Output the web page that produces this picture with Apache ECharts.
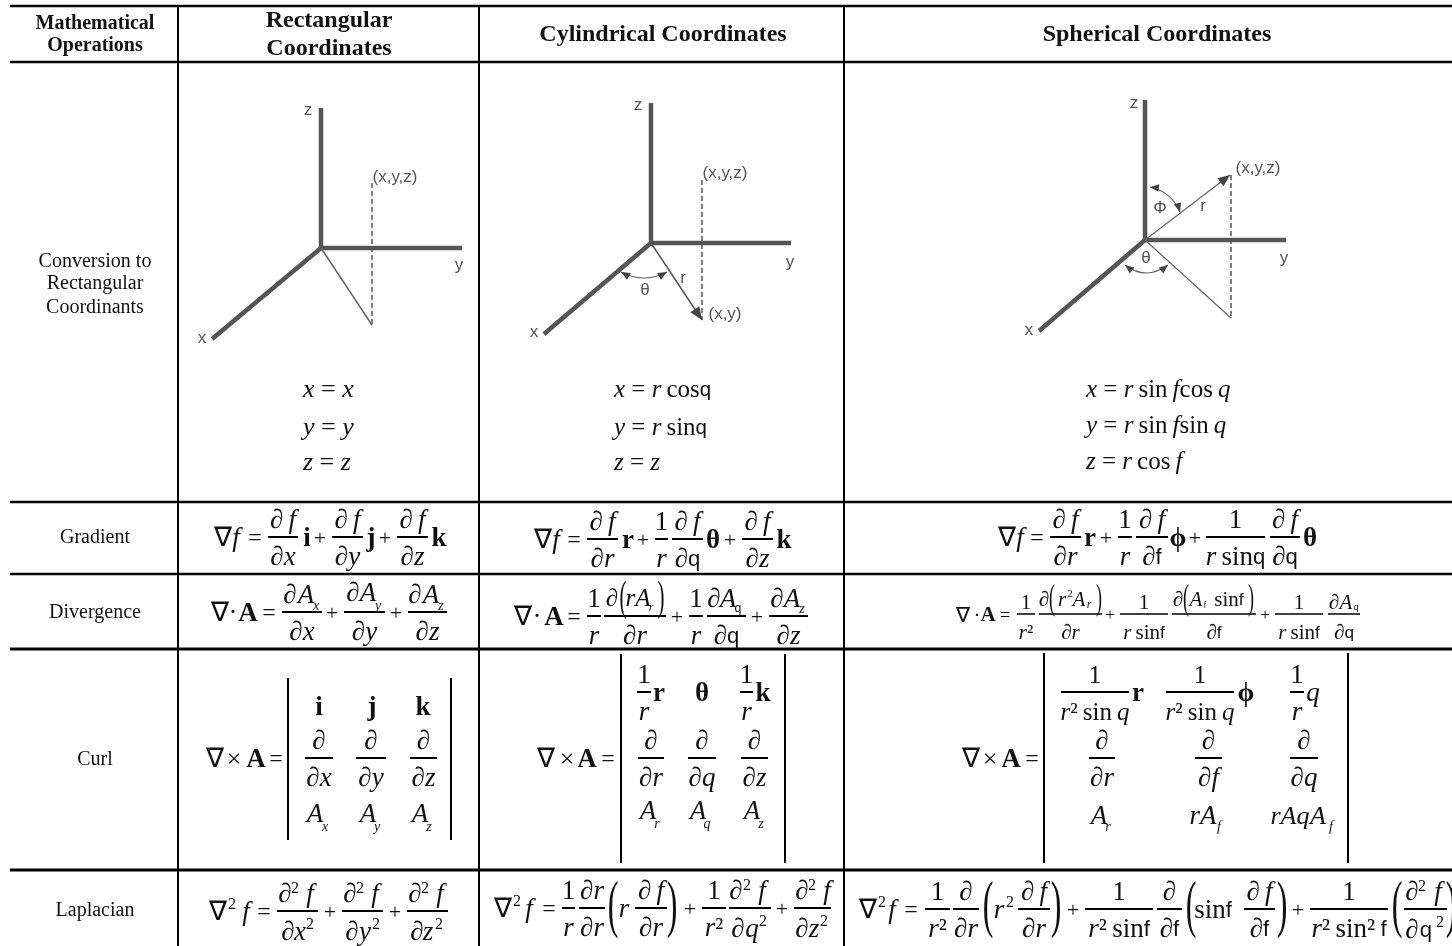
<!DOCTYPE html>
<html>
<head>
<meta charset="utf-8">
<style>html,body{margin:0;padding:0;background:#fff}#chart{width:1452px;height:946px}</style>
<script src="https://cdn.jsdelivr.net/npm/echarts@6/dist/echarts.min.js"></script>
</head>
<body>
<div id="chart"></div>
<script>
// table text
var columnHeaders = ['Cylindrical Coordinates', 'Spherical Coordinates'];
var wrappedHeader1 = ['Mathematical', 'Operations'];
var wrappedHeader2 = ['Rectangular', 'Coordinates'];
var rowLabels = ['Gradient', 'Divergence', 'Curl', 'Laplacian'];
var conversionLabel = ['Conversion to', 'Rectangular', 'Coordinants'];

// table rules
var rowRules = [6, 62, 502, 574, 649, 870];
var colRules = [178, 479, 844];

// the three axis sketches: [x1, y1, x2, y2]
var rectAxes = [[321, 108, 321, 248], [321, 248, 462, 248], [321, 248, 212, 339]];
var rectThin = [[321, 248, 372, 325]];
var rectDash = [[372, 183, 372, 325]];
var cylAxes = [[651, 103, 651, 243], [651, 243, 791, 243], [651, 243, 544, 334]];
var cylThin = [[651, 243, 702, 320]];
var cylDash = [[702, 180, 702, 320]];
var sphAxes = [[1145, 100, 1145, 240], [1145, 240, 1286, 240], [1145, 240, 1039, 331]];
var sphThin = [[1145, 240, 1231, 318], [1145, 240, 1230, 175]];
var sphDash = [[1231, 175, 1231, 318]];

var rules = [], sketch = [], texts = [];
var SERIF = '"Liberation Serif"', SANS = '"Liberation Sans"', M = 27, GREY = '#555';
var THIN = '\u2009';

function I(s) { return '{i|' + s + '}'; }
function B(s) { return '{b|' + s + '}'; }
function S(s) { return '{s|' + s + '}'; }

function t(str, x, y, size, opt) {
  opt = opt || {};
  texts.push({ str: str, x: x, y: y, size: size || M, color: opt.color || '#111', weight: opt.weight || 'normal',
    family: opt.family || SERIF, align: opt.align || 'center', scaleX: opt.scaleX || 1 });
}
function rule(x1, y1, x2, y2, w) { rules.push({ p: [x1, y1, x2, y2], w: w || 2 }); }
function frac(x1, x2, y, num, den, size, ny, dy) {
  size = size || M;
  rule(x1, y, x2, y, size > 24 ? 2 : 1.5);
  var c = (x1 + x2) / 2;
  if (num) t(num, c, y - (ny || 18), size);
  if (den) t(den, c, y + (dy || 19), size);
}
function sup(x, y, s) { t(s || '2', x, y, 16); }
function sub(x, y, s, size) { t(I(s), x, y, size || 14); }
function paren(s, x, y, size) { t(s, x, y, size, { scaleX: 0.5 }); }

// ---- table ----
rowRules.forEach(function (y, i) { rule(10, y, 1452, y, i > 3 ? 3 : 2.5); });
colRules.forEach(function (x) { rule(x, 6, x, 946, 2); });

t(wrappedHeader1[0], 95, 22, 20, { weight: 'bold' });
t(wrappedHeader1[1], 95, 44, 20, { weight: 'bold' });
t(wrappedHeader2[0], 329, 19, 24, { weight: 'bold' });
t(wrappedHeader2[1], 329, 47, 24, { weight: 'bold' });
t(columnHeaders[0], 663, 33, 24, { weight: 'bold' });
t(columnHeaders[1], 1157, 33, 24, { weight: 'bold' });
t(conversionLabel[0], 95, 260, 20);
t(conversionLabel[1], 95, 282, 20);
t(conversionLabel[2], 95, 306, 20);
t(rowLabels[0], 95, 536, 20);
t(rowLabels[1], 95, 611, 20);
t(rowLabels[2], 95, 758, 20);
t(rowLabels[3], 95, 909, 20);

// ---- sketches ----
function sketchLines(list, w, color, dash) {
  list.forEach(function (p) { sketch.push({ kind: 'line', p: p, w: w, color: color, dash: dash }); });
}
function label(s, x, y, size) { t(s, x, y - 2, size || 17, { family: SANS, color: GREY }); }
function head(x, y, fx, fy, size) { sketch.push({ kind: 'head', p: [x, y, fx, fy], size: size || 11 }); }
function curve(x1, y1, cx, cy, x2, y2) { sketch.push({ kind: 'arc', p: [x1, y1, cx, cy, x2, y2] }); }

sketchLines(rectAxes, 4.5, GREY);
sketchLines(rectThin, 1.5, '#666');
sketchLines(rectDash, 1.5, '#555', [5, 3]);
label('z', 308, 110); label('(x,y,z)', 395, 177); label('y', 459, 265); label('x', 202, 338);

sketchLines(cylAxes, 4.5, GREY);
sketchLines(cylThin, 1.5, '#555');
sketchLines(cylDash, 1.5, '#555', [5, 3]);
head(702, 320, 651, 243, 13);
curve(621, 272, 644, 284, 667, 272);
head(621, 272, 632, 278, 9); head(667, 272, 656, 278, 9);
label('z', 638, 105); label('(x,y,z)', 725, 173); label('y', 790, 262); label('x', 534, 332);
label('(x,y)', 725, 314); label('θ', 645, 290); label('r', 683, 278);

sketchLines(sphAxes, 4.5, GREY);
sketchLines(sphThin, 1.2, '#666');
sketchLines(sphDash, 1.5, '#555', [5, 3]);
head(1230, 175, 1145, 240, 12);
curve(1150, 187, 1172, 192, 1180, 212);
head(1150, 187, 1160, 188, 9); head(1180, 212, 1177, 202, 9);
curve(1125, 265, 1146, 281, 1168, 265);
head(1125, 265, 1134, 272, 9); head(1168, 265, 1159, 272, 9);
label('z', 1134, 103); label('(x,y,z)', 1258, 168); label('Φ', 1160, 208); label('r', 1203, 206);
label('θ', 1146, 258); label('y', 1284, 258); label('x', 1029, 330);

// ---- conversion formulas ----
var L = { align: 'left' };
t(I('x') + ' = ' + I('x'), 303, 388, 26, L);
t(I('y') + ' = ' + I('y'), 303, 426, 26, L);
t(I('z') + ' = ' + I('z'), 303, 461, 26, L);
t(I('x') + ' = ' + I('r') + THIN + 'cos' + S('q'), 614, 388, 25, L);
t(I('y') + ' = ' + I('r') + THIN + 'sin' + S('q'), 614, 426, 25, L);
t(I('z') + ' = ' + I('z'), 614, 461, 25, L);
t(I('x') + ' = ' + I('r') + THIN + 'sin' + THIN + I('f') + 'cos' + THIN + I('q'), 1086, 388, 25, L);
t(I('y') + ' = ' + I('r') + THIN + 'sin' + THIN + I('f') + 'sin' + THIN + I('q'), 1086, 424, 25, L);
t(I('z') + ' = ' + I('r') + THIN + 'cos' + THIN + I('f'), 1086, 460, 25, L);

// ---- gradient ----
var df = '∂' + THIN + I('f');
t('∇' + I('f'), 227, 537); t('=', 255, 537, 24);
frac(268, 298, 537, df, '∂' + I('x')); t(B('i'), 307, 537); t('+', 320, 537, 22);
frac(332, 363, 537, df, '∂' + I('y')); t(B('j'), 371, 537); t('+', 385, 537, 22);
frac(397, 428, 537, df, '∂' + I('z')); t(B('k'), 439, 537);

t('∇' + I('f'), 547, 539); t('=', 574, 539, 24);
frac(587, 618, 539, df, '∂' + I('r')); t(B('r'), 628, 539); t('+', 643, 539, 22);
frac(655, 668, 539, '1', I('r')); frac(672, 703, 539, df, '∂' + S('q'));
t(B('θ'), 713, 539); t('+', 730, 539, 22);
frac(742, 773, 539, df, '∂' + I('z')); t(B('k'), 784, 539);

t('∇' + I('f'), 1011, 537); t('=', 1037, 537, 24);
frac(1050, 1081, 537, df, '∂' + I('r')); t(B('r'), 1090, 537); t('+', 1106, 537, 22);
frac(1118, 1132, 537, '1', I('r')); frac(1136, 1168, 537, df, '∂' + S('f'));
t(B('ϕ'), 1178, 537); t('+', 1195, 537, 22);
frac(1206, 1265, 537, '1', I('r') + THIN + 'sin' + S('q')); frac(1270, 1300, 537, df, '∂' + S('q'));
t(B('θ'), 1310, 537);

// ---- divergence ----
function gradA(y, dx, ax, sx, s, ny) {
  t('∂', dx, y - (ny || 18)); t(I('A'), ax, y - (ny || 18)); sub(sx, y - 8, s);
}
t('∇', 220, 612); t('·', 233, 612); t(B('A'), 248, 612); t('=', 269, 612, 24);
frac(282, 322, 612, '', '∂' + I('x')); gradA(612, 290, 306, 316, 'x'); t('+', 332, 612, 22);
frac(344, 385, 612, '', '∂' + I('y')); gradA(612, 353, 368, 378, 'y', 20); t('+', 396, 612, 22);
frac(408, 447, 612, '', '∂' + I('z')); gradA(612, 415, 431, 441, 'z');

t('∇', 523, 616); t('·', 537, 616); t(B('A'), 554, 616); t('=', 574, 616, 24);
frac(587, 601, 616, '1', I('r'));
frac(604, 666, 616, '', '∂' + I('r'));
t('∂', 612, 597, 25); paren('(', 623, 597, 42); t(I('rA'), 638, 597, 25); sub(651, 606, 'r', 12); paren(')', 661, 597, 42);
t('+', 677, 616, 22);
frac(689, 703, 616, '1', I('r'));
frac(707, 746, 616, '', '∂' + S('q'));
t('∂', 714, 598); t(I('A'), 728, 598); t(S('q'), 738, 607, 15);
t('+', 757, 616, 22);
frac(769, 808, 616, '', '∂' + I('z'));
t('∂', 777, 598); t(I('A'), 792, 598); sub(802, 607, 'z');

var D = 21;
t('∇', 963, 614, D); t('·', 977, 614, D); t(B('A'), 988, 614, D); t('=', 1005, 614, 18);
frac(1017, 1035, 614, '1', I('r') + '²', D, 13, 17);
frac(1039, 1102, 614, '', '∂' + I('r'), D, 0, 17);
t('∂', 1044, 598, D); paren('(', 1052, 598, 36); t(I('r'), 1062, 598, D); t('2', 1070, 592, 11); t(I('A'), 1079, 598, D); sub(1089, 603, 'r', 12); paren(')', 1099, 598, 36);
t('+', 1110, 614, 17);
frac(1120, 1168, 614, '1', I('r') + THIN + 'sin' + S('f'), D, 13, 17);
frac(1172, 1256, 614, '', '∂' + S('f'), D, 0, 17);
t('∂', 1178, 598, D); paren('(', 1186, 598, 36); t(I('A'), 1196, 598, D); t(S('f'), 1205, 604, 10); t('sin' + S('f'), 1229, 598, D); paren(')', 1251, 598, 36);
t('+', 1265, 614, 17);
frac(1275, 1323, 614, '1', I('r') + THIN + 'sin' + S('f'), D, 13, 17);
frac(1328, 1360, 614, '', '∂' + S('q'), D, 0, 17);
t('∂', 1334, 601, D); t(I('A'), 1346, 601, D); t(S('q'), 1356, 606, 11);

// ---- curl ----
function bars(x1, x2, y1, y2) { rule(x1, y1, x1, y2, 2); rule(x2, y1, x2, y2, 2); }
t('∇', 215, 758); t('×', 234, 758, 26); t(B('A'), 256, 758); t('=', 276, 758, 24);
bars(288, 451, 678, 840);
t(B('i'), 319, 706); t(B('j'), 372, 706); t(B('k'), 423, 706);
frac(305, 333, 758, '∂', '∂' + I('x'));
frac(356, 386, 758, '∂', '∂' + I('y'));
frac(410, 437, 758, '∂', '∂' + I('z'));
t(I('A'), 315, 813); sub(325, 825, 'x');
t(I('A'), 368, 813); sub(377, 825, 'y');
t(I('A'), 420, 813); sub(429, 825, 'z');

t('∇', 546, 758); t('×', 567, 758, 26); t(B('A'), 587, 758); t('=', 608, 758, 24);
bars(621, 785, 654, 863);
frac(637, 651, 692, '1', I('r')); t(B('r'), 659, 692);
t(B('θ'), 702, 692);
frac(740, 753, 692, '1', I('r')); t(B('k'), 763, 692);
frac(638, 664, 758, '∂', '∂' + I('r'));
frac(688, 716, 758, '∂', '∂' + I('q'));
frac(741, 768, 758, '∂', '∂' + I('z'));
t(I('A'), 648, 810); sub(657, 822, 'r');
t(I('A'), 698, 810); sub(707, 822, 'q');
t(I('A'), 752, 810); sub(761, 822, 'z');

t('∇', 971, 758); t('×', 990, 758, 26); t(B('A'), 1011, 758); t('=', 1032, 758, 24);
bars(1044, 1348, 653, 863);
var r2sin = I('r') + '²' + THIN + 'sin' + THIN + I('q');
frac(1061, 1129, 692, '1', r2sin, 25); t(B('r'), 1138, 692);
frac(1166, 1234, 692, '1', r2sin, 25); t(B('ϕ'), 1246, 692);
frac(1290, 1304, 692, '1', I('r')); t(I('q'), 1313, 692);
frac(1089, 1115, 758, '∂', '∂' + I('r'));
frac(1195, 1222, 758, '∂', '∂' + I('f'));
frac(1290, 1318, 758, '∂', '∂' + I('q'));
t(I('A'), 1099, 815); sub(1108, 825, 'r');
t(I('rA'), 1203, 815); sub(1219, 825, 'f');
t(I('rAq'), 1290, 815, 26); t(I('A'), 1318, 815, 26); sub(1331, 825, 'f');

// ---- laplacian ----
function lapNum(y, dx, sx, fx) { t('∂', dx, y - 18); sup(sx, y - 24); t(I('f'), fx, y - 18); }
function lapDen(y, dx, vx, sx, v) { t('∂', dx, y + 20); t(v, vx, y + 20); sup(sx, y + 12); }
function frame(x1, x2, y) { frac(x1, x2, y, '', ''); }
function del2(x, y, fx, sx) { t('∇', x, y); sup(sx, y - 8); t(I('f'), fx, y); }

del2(218, 911, 246, 232); t('=', 264, 911, 24);
frame(277, 318, 911); lapNum(911, 285, 295, 310); lapDen(911, 288, 300, 310, I('x')); t('+', 330, 911, 22);
frame(342, 383, 911); lapNum(911, 350, 360, 375); lapDen(911, 352, 365, 376, I('y')); t('+', 395, 911, 22);
frame(407, 448, 911); lapNum(911, 415, 425, 440); lapDen(911, 417, 428, 439, I('z'));

del2(503, 908, 529, 517); t('=', 549, 908, 24);
frac(562, 575, 908, '1', I('r'));
frac(579, 605, 908, '∂' + I('r'), '∂' + I('r'));
paren('(', 613, 906, 64); t(I('r'), 624, 908); frac(635, 667, 908, df, '∂' + I('r')); paren(')', 672, 906, 64);
t('+', 690, 908, 22);
frac(702, 726, 908, '1', I('r') + '²');
frame(729, 771, 908); lapNum(908, 736, 747, 762); lapDen(908, 738, 752, 763, I('q'));
t('+', 782, 908, 22);
frame(794, 831, 908); lapNum(908, 802, 812, 827); lapDen(908, 802, 814, 824, I('z'));

del2(868, 909, 892, 882); t('=', 911, 909, 24);
frac(925, 950, 909, '1', I('r') + '²');
frac(953, 979, 909, '∂', '∂' + I('r'));
paren('(', 988, 906, 64); t(I('r'), 999, 909); sup(1010, 901); frac(1018, 1050, 909, df, '∂' + I('r')); paren(')', 1056, 906, 64);
t('+', 1073, 909, 22);
frac(1085, 1153, 909, '1', I('r') + '²' + THIN + 'sin' + S('f'));
frac(1157, 1182, 909, '∂', '∂' + S('f'));
paren('(', 1191, 906, 64); t('sin' + S('f'), 1213, 909); frac(1244, 1275, 909, df, '∂' + S('f')); paren(')', 1282, 906, 64);
t('+', 1298, 909, 22);
frac(1310, 1388, 909, '1', I('r') + '²' + THIN + 'sin²' + THIN + S('f'));
paren('(', 1397, 906, 64);
frame(1404, 1447, 909); lapNum(909, 1412, 1422, 1438); lapDen(909, 1412, 1426, 1440, S('q'));
paren(')', 1451, 906, 64);

// ---- drawing ----
function renderRule(params, api) {
  var m = rules[api.value(2)];
  var a = api.coord([m.p[0], m.p[1]]), b = api.coord([m.p[2], m.p[3]]);
  return { type: 'line', shape: { x1: a[0], y1: a[1], x2: b[0], y2: b[1] }, style: { stroke: '#000', lineWidth: m.w } };
}
function renderSketch(params, api) {
  var m = sketch[api.value(2)], p = m.p;
  var a = api.coord([p[0], p[1]]), b = api.coord([p[2], p[3]]);
  if (m.kind === 'line') {
    return { type: 'line', shape: { x1: a[0], y1: a[1], x2: b[0], y2: b[1] },
      style: { stroke: m.color, lineWidth: m.w, lineDash: m.dash || null } };
  }
  if (m.kind === 'arc') {
    var c = api.coord([p[4], p[5]]);
    return { type: 'bezierCurve', shape: { x1: a[0], y1: a[1], cpx1: b[0], cpy1: b[1], x2: c[0], y2: c[1] },
      style: { stroke: '#666', lineWidth: 1.2, fill: null } };
  }
  // arrow head pointing from the tail point to the tip
  var ang = Math.atan2(a[1] - b[1], a[0] - b[0]), s = m.size, w = s * 0.42;
  var bx = a[0] - Math.cos(ang) * s, by = a[1] - Math.sin(ang) * s;
  return { type: 'polygon', shape: { points: [a,
    [bx - Math.sin(ang) * w, by + Math.cos(ang) * w],
    [bx + Math.sin(ang) * w, by - Math.cos(ang) * w]] }, style: { fill: '#444' } };
}
function renderText(params, api) {
  var m = texts[api.value(2)], a = api.coord([m.x, m.y + 2]);
  var base = { fontFamily: m.family, fontSize: m.size, fill: m.color };
  return { type: 'text', x: a[0], y: a[1], scaleX: m.scaleX, style: {
    text: m.str, x: 0, y: 0, align: m.align, verticalAlign: 'middle',
    fontFamily: m.family, fontSize: m.size, fontWeight: m.weight, fill: m.color,
    rich: {
      i: Object.assign({ fontStyle: 'italic' }, base),
      b: Object.assign({ fontWeight: 'bold' }, base),
      s: Object.assign({}, base, { fontFamily: SANS, fontSize: m.size * 0.82 })
    }
  } };
}
function toData(list) {
  return list.map(function (m, i) { return m.p ? [m.p[0], m.p[1], i] : [m.x, m.y, i]; });
}

var chart = echarts.init(document.getElementById('chart'), null, { renderer: 'canvas' });
chart.setOption({
  backgroundColor: '#fff',
  animation: false,
  grid: { left: 0, right: 0, top: 0, bottom: 0 },
  xAxis: { type: 'value', min: 0, max: 1452, show: false },
  yAxis: { type: 'value', min: 0, max: 946, inverse: true, show: false },
  series: [
    { name: 'rules', type: 'custom', silent: true, renderItem: renderRule, data: toData(rules) },
    { name: 'sketch', type: 'custom', silent: true, renderItem: renderSketch, data: toData(sketch) },
    { name: 'text', type: 'custom', silent: true, renderItem: renderText, data: toData(texts) }
  ]
});
</script>
</body>
</html>
